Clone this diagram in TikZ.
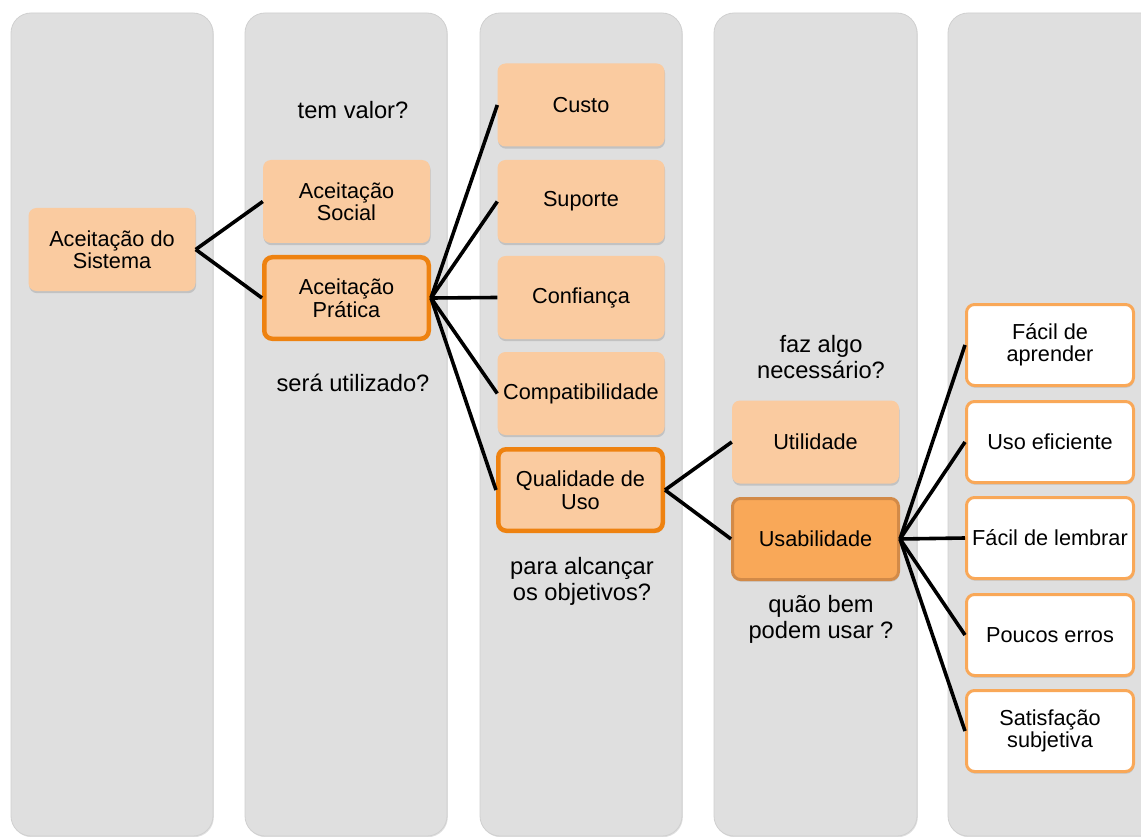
\documentclass[tikz,border=0pt]{standalone}
\usepackage{fontspec}
\setmainfont{Liberation Sans}
\usetikzlibrary{shadows}
\definecolor{colfill}{HTML}{DFDFDF}
\definecolor{coledge}{HTML}{D0D0D0}
\definecolor{peach}{HTML}{FACBA0}
\definecolor{hlline}{HTML}{EE8210}
\definecolor{usafill}{HTML}{F9A858}
\definecolor{usaline}{HTML}{D28A48}
\definecolor{leafline}{HTML}{F9A858}
\begin{document}
\begin{tikzpicture}[x=1pt,y=-1pt,
  column/.style={fill=colfill, draw=coledge, line width=0.8pt, rounded corners=20pt,
    drop shadow={shadow xshift=0.8pt, shadow yshift=-1.2pt, opacity=0.25}},
  box/.style={rounded corners=8pt, minimum width=167pt, minimum height=83pt,
    align=center, inner sep=0pt, font=\fontsize{21.7}{22.5}\selectfont,
    drop shadow={shadow xshift=0.6pt, shadow yshift=-2.2pt, opacity=0.3}},
  peachbox/.style={box, fill=peach},
  hlbox/.style={box, fill=peach, draw=hlline, line width=4.5pt,
    minimum width=164.5pt, minimum height=81.5pt},
  usabox/.style={box, fill=usafill, draw=usaline, line width=3pt,
    minimum width=166pt, minimum height=81pt},
  leafbox/.style={box, fill=white, draw=leafline, line width=3pt,
    minimum width=167pt, minimum height=81pt},
  note/.style={align=center, font=\fontsize{23.7}{26}\selectfont},
  conn/.style={line width=3.6pt, black}
]
\useasboundingbox (0,0) rectangle (1141,837);

% background columns
\draw[column] (11,13) rectangle (213,836);
\draw[column] (245,13) rectangle (447,836);
\draw[column] (480,13) rectangle (682,836);
\draw[column] (714,13) rectangle (917,836);
\draw[column] (948,13) rectangle (1170,836);

% level 1
\node[peachbox] (sis) at (112,249.5) {Aceitação do\\Sistema};

% level 2
\node[peachbox] (soc) at (346.5,201.5) {Aceitação\\Social};
\node[hlbox] (pra) at (346.5,298) {Aceitação\\Prática};

% level 3
\node[peachbox] (cus) at (581,105) {Custo};
\node[peachbox] (sup) at (581,201.5) {Suporte};
\node[peachbox] (con) at (581,297.5) {Confiança};
\node[peachbox] (com) at (581,393.5) {Compatibilidade};
\node[hlbox] (qua) at (580.5,490) {Qualidade de\\Uso};

% level 4
\node[peachbox] (uti) at (815.5,442) {Utilidade};
\node[usabox] (usa) at (815.5,539) {Usabilidade};

% level 5
\node[leafbox] (apr) at (1050,345) {Fácil de\\aprender};
\node[leafbox] (efi) at (1050,442) {Uso eficiente};
\node[leafbox] (lem) at (1050,538) {Fácil de lembrar};
\node[leafbox] (err) at (1050,635) {Poucos erros};
\node[leafbox] (sat) at (1050,731) {Satisfação\\subjetiva};

% questions
\node[note] (q1) at (353,110) {tem valor?};
\node[note] (q2) at (353,383) {será utilizado?};
\node[note] (q3) at (582,581) {para alcançar\\os objetivos?};
\node[note] (q4) at (821,357) {faz algo\\necessário?};
\node[note] (q5) at (821,619) {quão bem\\podem usar ?};

% connectors
\draw[conn] (sis.east) -- (soc.west);
\draw[conn] (sis.east) -- (pra.west);
\foreach \c in {cus,sup,con,com,qua} \draw[conn] (pra.east) -- (\c.west);
\draw[conn] (qua.east) -- (uti.west);
\draw[conn] (qua.east) -- (usa.west);
\foreach \c in {apr,efi,lem,err,sat} \draw[conn] (usa.east) -- (\c.west);
\end{tikzpicture}
\end{document}
